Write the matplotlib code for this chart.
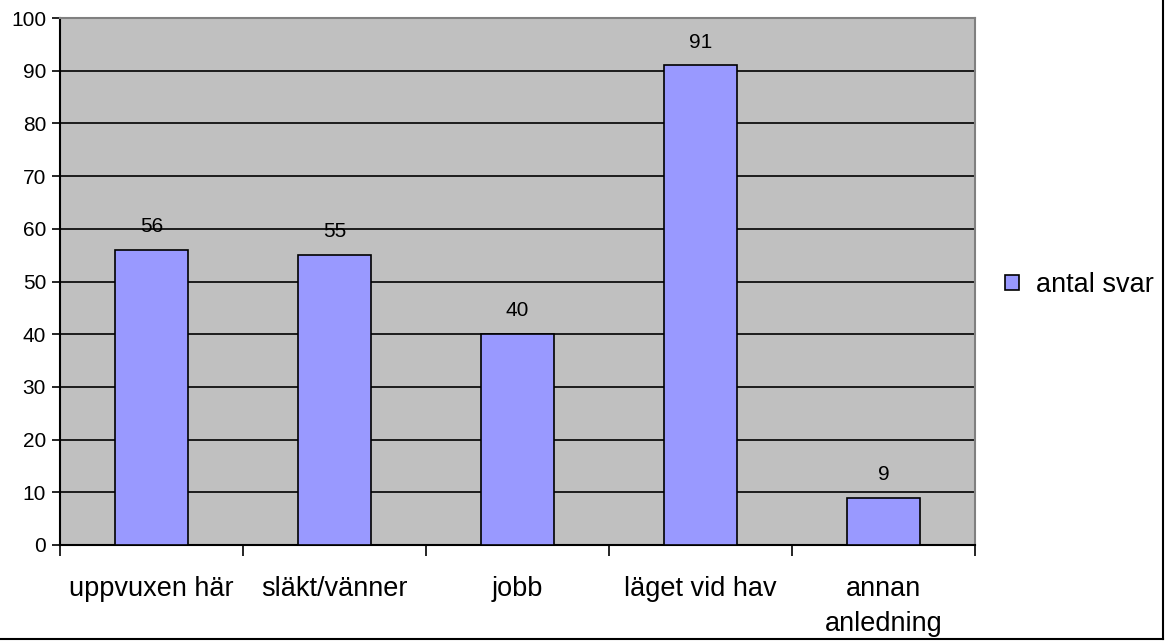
import matplotlib.pyplot as plt
from matplotlib.patches import Patch
from matplotlib.lines import Line2D

categories = ["uppvuxen här", "släkt/vänner", "jobb", "läget vid hav", "annan\nanledning"]
values = [56, 55, 40, 91, 9]
series_name = "antal svar"
yticks = list(range(0, 101, 10))

plt.rcParams['font.family'] = ['Liberation Sans', 'DejaVu Sans']

fig = plt.figure(figsize=(11.67, 6.41), dpi=100)
ax = fig.add_axes([60 / 1167, 1 - 545 / 641, 915 / 1167, 527 / 641])
ax.set_facecolor('#c0c0c0')

x = list(range(len(categories)))
bars = ax.bar(x, values, width=0.4, color='#9999ff', edgecolor='black',
              linewidth=1.2, zorder=3)
for xi, v in zip(x, values):
    ax.annotate(str(v), (xi, v), xytext=(0, 10), textcoords='offset points',
                ha='center', va='bottom', fontsize=15)

ax.set_xlim(-0.5, len(categories) - 0.5)
ax.set_ylim(0, 100)
ax.set_yticks(yticks)
ax.set_yticklabels([str(t) for t in yticks], fontsize=15)
ax.yaxis.grid(True, color='black', linewidth=1.2, zorder=1)
ax.set_axisbelow(True)

# category tick marks at the boundaries, labels in the middle
ax.set_xticks([i - 0.5 for i in range(len(categories) + 1)])
ax.set_xticklabels([])
ax.set_xticks(x, minor=True)
ax.set_xticklabels(categories, minor=True, fontsize=19.5, linespacing=1.45)
ax.tick_params(axis='x', which='minor', length=0, pad=22)
ax.tick_params(axis='x', which='major', length=8, width=1.2, direction='out')
ax.tick_params(axis='y', length=6, width=1.2, direction='out', pad=4)

for side in ['top', 'right']:
    ax.spines[side].set_color('#808080')
    ax.spines[side].set_linewidth(1.5)
for side in ['left', 'bottom']:
    ax.spines[side].set_color('black')
    ax.spines[side].set_linewidth(1.5)

handle = Patch(facecolor='#9999ff', edgecolor='black', linewidth=1.2)
fig.legend([handle], [series_name], loc='center left',
           bbox_to_anchor=(981 / 1167, 1 - 285 / 641), frameon=False,
           fontsize=19.5, handlelength=0.5, handleheight=0.5, handletextpad=0.63)

# outer chart border (right and bottom edges visible)
fig.add_artist(Line2D([1163 / 1167, 1163 / 1167], [2 / 641, 1], color='black',
                      linewidth=1.5, transform=fig.transFigure))
fig.add_artist(Line2D([0, 1163 / 1167], [2 / 641, 2 / 641], color='black',
                      linewidth=1.5, transform=fig.transFigure))

fig.savefig('out.png', dpi=100)
